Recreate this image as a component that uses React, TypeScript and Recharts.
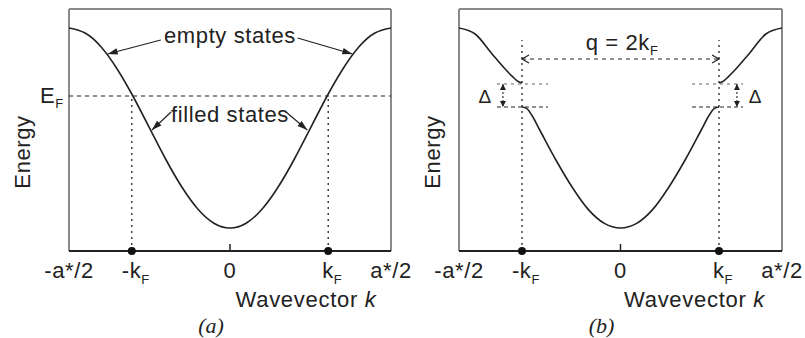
import React from "react";
import { LineChart, Line, XAxis, YAxis, ReferenceLine, ReferenceDot } from "recharts";

// ---------- data ----------
const kA = [-1, -0.9, -0.8, -0.7, -0.6, -0.5, -0.4, -0.3, -0.2, -0.1, 0, 0.1, 0.2, 0.3, 0.4, 0.5, 0.6, 0.7, 0.8, 0.9, 1];
const energyA = [1, 0.975, 0.905, 0.794, 0.655, 0.5, 0.345, 0.206, 0.095, 0.024, 0, 0.024, 0.095, 0.206, 0.345, 0.5, 0.655, 0.794, 0.905, 0.975, 1];

const kB = [-1, -0.9, -0.8, -0.72, -0.67, -0.64, -0.61, -0.58, -0.55, -0.5, -0.4, -0.3, -0.2, -0.1, 0, 0.1, 0.2, 0.3, 0.4, 0.5, 0.55, 0.58, 0.61, 0.64, 0.67, 0.72, 0.8, 0.9, 1];
const upperB = [1, 0.97, 0.875, 0.8, 0.758, 0.736, 0.725, null, null, null, null, null, null, null, null, null, null, null, null, null, null, null, 0.725, 0.736, 0.758, 0.8, 0.875, 0.97, 1];
const lowerB = [null, null, null, null, null, null, 0.605, 0.597, 0.565, 0.49, 0.34, 0.205, 0.093, 0.023, 0, 0.023, 0.093, 0.205, 0.34, 0.49, 0.565, 0.597, 0.605, null, null, null, null, null, null];

const tickValues = [-1, -0.61, 0, 0.61, 1];
const tickLabels = ["-a*/2", "-k_F", "0", "k_F", "a*/2"];
const fermiK = 0.61;
const fermiE = 0.66;
const gapTop = 0.72;
const gapBottom = 0.605;
const yDomain = [-0.115, 1.095];

const dataA = kA.map((k, i) => ({ k, e: energyA[i] }));
const dataB = kB.map((k, i) => ({ k, upper: upperB[i], lower: lowerB[i] }));

// ---------- styles ----------
const FONT = '"Liberation Sans", Arial, Helvetica, sans-serif';
const INK = "#222";
const FRAME = "#8a8a8a";
const fontStyle = { fontFamily: FONT };

const renderTick = (props: any) => {
  const { x, y, payload } = props;
  const idx = tickValues.indexOf(payload.value);
  const label = idx >= 0 ? tickLabels[idx] : String(payload.value);
  const [main, sub] = label.split("_");
  return (
    <text x={x + (sub ? 4 : 0)} y={y} dy={27} textAnchor="middle" style={fontStyle} fontSize={22} letterSpacing={0.6} fill={INK}>
      {main}
      {sub ? <tspan fontSize={13} dy={6}>{sub}</tspan> : null}
    </text>
  );
};

function head(x: number, y: number, fx: number, fy: number, len: number, hw: number) {
  const dx = x - fx, dy = y - fy;
  const L = Math.hypot(dx, dy) || 1;
  const ux = dx / L, uy = dy / L;
  const bx = x - ux * len, by = y - uy * len;
  const px = -uy, py = ux;
  return `${bx + px * hw},${by + py * hw} ${x},${y} ${bx - px * hw},${by - py * hw}`;
}

const solidArrow = (p: any) => {
  const { x1, y1, x2, y2 } = p;
  return (
    <g>
      <line x1={x1} y1={y1} x2={x2} y2={y2} stroke={INK} strokeWidth={1.2} />
      <polygon points={head(x2, y2, x1, y1, 10, 3.2)} fill={INK} />
    </g>
  );
};

const openDoubleDashed = (p: any) => {
  const { x1, y1, x2, y2 } = p;
  return (
    <g>
      <line x1={x1} y1={y1} x2={x2} y2={y2} stroke={INK} strokeWidth={1.2} strokeDasharray="4 4" />
      <polyline points={head(x2, y2, x1, y1, 7, 4)} fill="none" stroke={INK} strokeWidth={1.2} />
      <polyline points={head(x1, y1, x2, y2, 7, 4)} fill="none" stroke={INK} strokeWidth={1.2} />
    </g>
  );
};

const smallDoubleArrow = (p: any) => {
  const { x1, y1, x2, y2 } = p;
  return (
    <g>
      <line x1={x1} y1={y1} x2={x2} y2={y2} stroke={INK} strokeWidth={1.1} strokeDasharray="2 2" />
      <polygon points={head(x2, y2, x1, y1, 6, 3)} fill={INK} />
      <polygon points={head(x1, y1, x2, y2, 6, 3)} fill={INK} />
    </g>
  );
};

const textShape = (content: React.ReactNode, anchor: string, size: number, extra: any = {}) => (p: any) => (
  <text x={p.cx} y={p.cy} textAnchor={anchor} style={fontStyle} fontSize={size} fill={INK} letterSpacing={0.6} {...extra}>
    {content}
  </text>
);

const rotatedShape = (content: string) => (p: any) => (
  <text
    x={p.cx}
    y={p.cy}
    textAnchor="middle"
    dy="0.35em"
    transform={`rotate(-90 ${p.cx} ${p.cy})`}
    style={fontStyle}
    fontSize={22}
    letterSpacing={0.6}
    fill={INK}
  >
    {content}
  </text>
);

const note = (key: string, x: number, y: number, shape: any) => (
  <ReferenceDot key={key} x={x} y={y} r={0} ifOverflow="visible" shape={shape} />
);

const seg = (key: string, a: [number, number], b: [number, number], extra: any) => (
  <ReferenceLine key={key} segment={[{ x: a[0], y: a[1] }, { x: b[0], y: b[1] }]} ifOverflow="visible" {...extra} />
);

const frame = (k: string) => [
  <ReferenceLine key={k + "l"} x={-1} stroke={FRAME} strokeWidth={2} ifOverflow="visible" />,
  <ReferenceLine key={k + "r"} x={1} stroke={FRAME} strokeWidth={2} ifOverflow="visible" />,
  <ReferenceLine key={k + "t"} y={yDomain[1]} stroke={FRAME} strokeWidth={2} ifOverflow="visible" />,
];

const axisMarks = (k: string) => [
  seg(k + "c", [0, yDomain[0]], [0, yDomain[0] + 0.035], { stroke: INK, strokeWidth: 1.5 }),
  <ReferenceDot key={k + "d1"} x={-fermiK} y={yDomain[0]} r={4} fill="#111" stroke="none" ifOverflow="visible" />,
  <ReferenceDot key={k + "d2"} x={fermiK} y={yDomain[0]} r={4} fill="#111" stroke="none" ifOverflow="visible" />,
];

const bottomText = (title: string, titleDx: number, panel: string, panelDx: number) => (p: any) => {
  const vb = p.viewBox || {};
  const cx = vb.x + vb.width / 2;
  return (
    <g>
      <text x={cx + titleDx} y={307} textAnchor="middle" style={fontStyle} fontSize={22} letterSpacing={0.7} fill={INK}>
        {title} <tspan fontStyle="italic">k</tspan>
      </text>
      <text x={cx + panelDx} y={333} textAnchor="middle" style={{ fontFamily: '"Liberation Serif", "Times New Roman", serif' }} fontStyle="italic" fontSize={22} fill={INK}>
        {panel}
      </text>
    </g>
  );
};

const xAxisCommon = {
  type: "number" as const,
  dataKey: "k",
  domain: [-1, 1],
  ticks: tickValues,
  interval: 0 as const,
  allowDataOverflow: true,
  tickLine: false,
  tickSize: 0,
  tickMargin: 0,
  axisLine: { stroke: INK, strokeWidth: 2 },
  height: 30,
  tick: renderTick,
};

export default function App() {
  return (
    <div style={{ position: "absolute", left: 0, top: 0, width: 805, height: 338, background: "#fff" }}>
      <div style={{ position: "absolute", left: 0, top: 0 }}>
        <LineChart width={420} height={338} data={dataA} margin={{ top: 9, right: 29, bottom: 57, left: 69 }}>
          <XAxis {...xAxisCommon} label={{ content: bottomText("Wavevector", 76, "(a)", -19) } as any} />
          <YAxis hide type="number" domain={yDomain} allowDataOverflow />
          {frame("a")}
          <ReferenceLine y={fermiE} stroke={INK} strokeWidth={1.2} strokeDasharray="4 4" ifOverflow="visible" />
          {seg("va1", [-fermiK, yDomain[0]], [-fermiK, fermiE], { stroke: INK, strokeWidth: 1.3, strokeDasharray: "2 4" })}
          {seg("va2", [fermiK, yDomain[0]], [fermiK, fermiE], { stroke: INK, strokeWidth: 1.3, strokeDasharray: "2 4" })}
          <Line dataKey="e" type="natural" stroke={INK} strokeWidth={1.6} dot={false} activeDot={false} isAnimationActive={false} />
          {seg("ea1", [-0.43, 0.94], [-0.76, 0.87], { shape: solidArrow })}
          {seg("ea2", [0.42, 0.95], [0.76, 0.87], { shape: solidArrow })}
          {seg("fa1", [-0.366, 0.58], [-0.485, 0.49], { shape: solidArrow })}
          {seg("fa2", [0.348, 0.58], [0.48, 0.49], { shape: solidArrow })}
          {note("t1", 0, 0.925, textShape("empty states", "middle", 22))}
          {note("t2", 0, 0.53, textShape("filled states", "middle", 22))}
          {note("ef", -1.18, 0.625, textShape(<>E<tspan fontSize={13} dy={5}>F</tspan></>, "start", 22))}
          {note("ya", -1.292, 0.38, rotatedShape("Energy"))}
          {axisMarks("a")}
        </LineChart>
      </div>
      <div style={{ position: "absolute", left: 400, top: 0 }}>
        <LineChart width={405} height={338} data={dataB} margin={{ top: 9, right: 23, bottom: 57, left: 59 }}>
          <XAxis {...xAxisCommon} label={{ content: bottomText("Wavevector", 74, "(b)", -19) } as any} />
          <YAxis hide type="number" domain={yDomain} allowDataOverflow />
          {frame("b")}
          {seg("vb1", [-fermiK, yDomain[0]], [-fermiK, 0.94], { stroke: INK, strokeWidth: 1.3, strokeDasharray: "2 4" })}
          {seg("vb2", [fermiK, yDomain[0]], [fermiK, 0.94], { stroke: INK, strokeWidth: 1.3, strokeDasharray: "2 4" })}
          {seg("g1", [-0.765, gapTop], [-0.449, gapTop], { stroke: "#b0b0b0", strokeWidth: 2, strokeDasharray: "3 4" })}
          {seg("g2", [0.443, gapTop], [0.759, gapTop], { stroke: "#b0b0b0", strokeWidth: 2, strokeDasharray: "3 4" })}
          {seg("b1", [-0.765, gapBottom], [-0.449, gapBottom], { stroke: INK, strokeWidth: 1.2, strokeDasharray: "4 3" })}
          {seg("b2", [0.443, gapBottom], [0.759, gapBottom], { stroke: INK, strokeWidth: 1.2, strokeDasharray: "4 3" })}
          <Line dataKey="upper" type="monotone" stroke={INK} strokeWidth={1.6} dot={false} activeDot={false} connectNulls={false} isAnimationActive={false} />
          <Line dataKey="lower" type="monotone" stroke={INK} strokeWidth={1.6} dot={false} activeDot={false} connectNulls={false} isAnimationActive={false} />
          {seg("q", [-fermiK, 0.845], [fermiK, 0.845], { shape: openDoubleDashed })}
          {seg("d1", [-0.728, gapTop], [-0.728, gapBottom], { shape: smallDoubleArrow })}
          {seg("d2", [0.721, gapTop], [0.721, gapBottom], { shape: smallDoubleArrow })}
          {note("q2", 0.01, 0.89, textShape(<>q = 2k<tspan fontSize={13} dy={5}>F</tspan></>, "middle", 22))}
          {note("D1", -0.84, 0.625, textShape("Δ", "middle", 19, { letterSpacing: 0 }))}
          {note("D2", 0.833, 0.625, textShape("Δ", "middle", 19, { letterSpacing: 0 }))}
          {note("yb", -1.167, 0.38, rotatedShape("Energy"))}
          {axisMarks("b")}
        </LineChart>
      </div>
    </div>
  );
}
